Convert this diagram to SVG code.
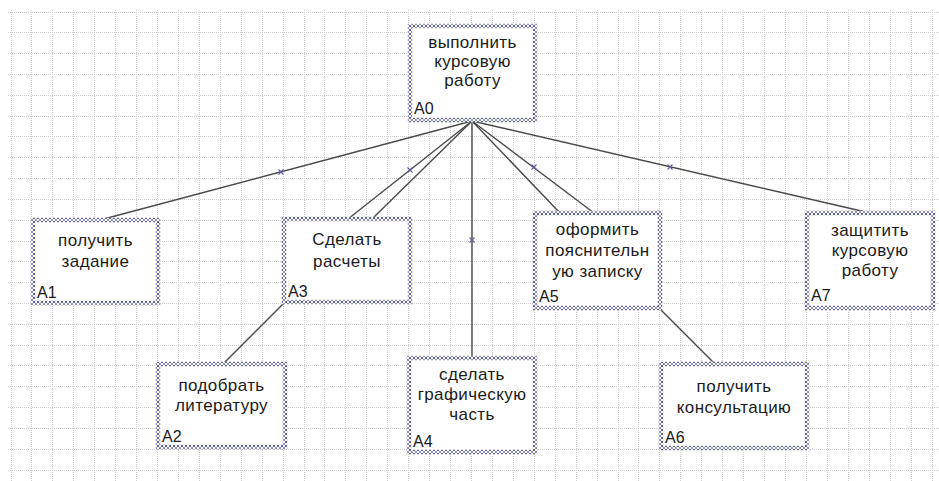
<svg xmlns="http://www.w3.org/2000/svg" width="939" height="481" viewBox="0 0 939 481">
<style>
.grid{stroke:#cfcfcf;stroke-width:1;stroke-dasharray:1 1;fill:none}
.box{fill:#ffffff;stroke:#3a3a3a;stroke-width:1}
.sel{fill:none;stroke:url(#xp);stroke-width:4.5}
.t{font-family:"Liberation Sans",Arial,sans-serif;font-size:17px;fill:#1a1a1a;text-anchor:middle;letter-spacing:0.4px}
.lbl{font-family:"Liberation Sans",Arial,sans-serif;font-size:16px;fill:#1a1a1a}
.con{stroke:#4a4a4a;stroke-width:1.4;fill:none}
.mk{stroke:#5a5aa0;stroke-width:1.1;fill:none}
</style>
<defs>
<pattern id="xp" patternUnits="userSpaceOnUse" width="4" height="4">
<rect width="4" height="4" fill="#ffffff"/>
<path d="M0.3,0.3L3.7,3.7M3.7,0.3L0.3,3.7" stroke="#5e5e9c" stroke-width="1"/>
</pattern>
<path id="x" d="M-2.5,-2.5L2.5,2.5M2.5,-2.5L-2.5,2.5"/>
</defs>
<rect width="939" height="481" fill="#ffffff"/>
<path class="grid" d="M11.5,10V481M31.5,10V481M52.5,10V481M73.5,10V481M94.5,10V481M115.5,10V481M136.5,10V481M157.5,10V481M178.5,10V481M199.5,10V481M220.5,10V481M241.5,10V481M262.5,10V481M283.5,10V481M304.5,10V481M324.5,10V481M345.5,10V481M366.5,10V481M387.5,10V481M408.5,10V481M429.5,10V481M450.5,10V481M471.5,10V481M492.5,10V481M513.5,10V481M534.5,10V481M555.5,10V481M576.5,10V481M597.5,10V481M618.5,10V481M638.5,10V481M659.5,10V481M680.5,10V481M701.5,10V481M722.5,10V481M743.5,10V481M764.5,10V481M785.5,10V481M806.5,10V481M827.5,10V481M848.5,10V481M869.5,10V481M890.5,10V481M911.5,10V481M932.5,10V481
M8,12.5H939M8,32.5H939M8,53.5H939M8,74.5H939M8,95.5H939M8,116.5H939M8,136.5H939M8,157.5H939M8,178.5H939M8,199.5H939M8,220.5H939M8,241.5H939M8,261.5H939M8,282.5H939M8,303.5H939M8,324.5H939M8,345.5H939M8,365.5H939M8,386.5H939M8,407.5H939M8,428.5H939M8,449.5H939M8,470.5H939"/>
<g id="connectors">
<line class="con" x1="472" y1="121" x2="100" y2="220"/>
<line class="con" x1="472" y1="121" x2="348" y2="219"/>
<line class="con" x1="472" y1="121" x2="372" y2="219"/>
<line class="con" x1="472" y1="121" x2="472" y2="358"/>
<line class="con" x1="472" y1="121" x2="560" y2="213"/>
<line class="con" x1="472" y1="121" x2="594" y2="213"/>
<line class="con" x1="472" y1="121" x2="870" y2="213"/>
<line class="con" x1="285" y1="302" x2="223" y2="364"/>
<line class="con" x1="659" y1="308" x2="715" y2="364"/>
<use href="#x" class="mk" x="281" y="172"/>
<use href="#x" class="mk" x="410" y="170"/>
<use href="#x" class="mk" x="472" y="240"/>
<use href="#x" class="mk" x="534" y="167"/>
<use href="#x" class="mk" x="670" y="167"/>
</g>
<g id="A0">
<rect class="box" x="410" y="26" width="125" height="94"/>
<rect class="sel" x="410" y="26" width="125" height="94"/>
<text class="t" x="472.5" y="48">выполнить</text>
<text class="t" x="472.5" y="67">курсовую</text>
<text class="t" x="472.5" y="86">работу</text>
<text class="lbl" x="414" y="114">A0</text>
</g>
<g id="A1">
<rect class="box" x="33" y="220" width="125" height="83"/>
<rect class="sel" x="33" y="220" width="125" height="83"/>
<text class="t" x="95.5" y="246">получить</text>
<text class="t" x="95.5" y="267">задание</text>
<text class="lbl" x="37" y="298">A1</text>
</g>
<g id="A3">
<rect class="box" x="284" y="219" width="126" height="83"/>
<rect class="sel" x="284" y="219" width="126" height="83"/>
<text class="t" x="347" y="245">Сделать</text>
<text class="t" x="347" y="267">расчеты</text>
<text class="lbl" x="288" y="297">A3</text>
</g>
<g id="A2">
<rect class="box" x="158" y="364" width="127" height="83"/>
<rect class="sel" x="158" y="364" width="127" height="83"/>
<text class="t" x="221.5" y="391">подобрать</text>
<text class="t" x="221.5" y="411">литературу</text>
<text class="lbl" x="162" y="442">A2</text>
</g>
<g id="A4">
<rect class="box" x="409" y="358" width="126" height="94"/>
<rect class="sel" x="409" y="358" width="126" height="94"/>
<text class="t" x="472" y="380">сделать</text>
<text class="t" x="472" y="400">графическую</text>
<text class="t" x="472" y="420">часть</text>
<text class="lbl" x="413" y="447">A4</text>
</g>
<g id="A5">
<rect class="box" x="535" y="213" width="125" height="95"/>
<rect class="sel" x="535" y="213" width="125" height="95"/>
<text class="t" x="597.5" y="235">оформить</text>
<text class="t" x="597.5" y="256">пояснительн</text>
<text class="t" x="597.5" y="277">ую записку</text>
<text class="lbl" x="539" y="302">A5</text>
</g>
<g id="A6">
<rect class="box" x="661" y="364" width="146" height="84"/>
<rect class="sel" x="661" y="364" width="146" height="84"/>
<text class="t" x="734" y="392">получить</text>
<text class="t" x="734" y="413">консультацию</text>
<text class="lbl" x="665" y="443">A6</text>
</g>
<g id="A7">
<rect class="box" x="807" y="213" width="126" height="95"/>
<rect class="sel" x="807" y="213" width="126" height="95"/>
<text class="t" x="870" y="236">защитить</text>
<text class="t" x="870" y="256">курсовую</text>
<text class="t" x="870" y="276">работу</text>
<text class="lbl" x="811" y="301">A7</text>
</g>
</svg>
